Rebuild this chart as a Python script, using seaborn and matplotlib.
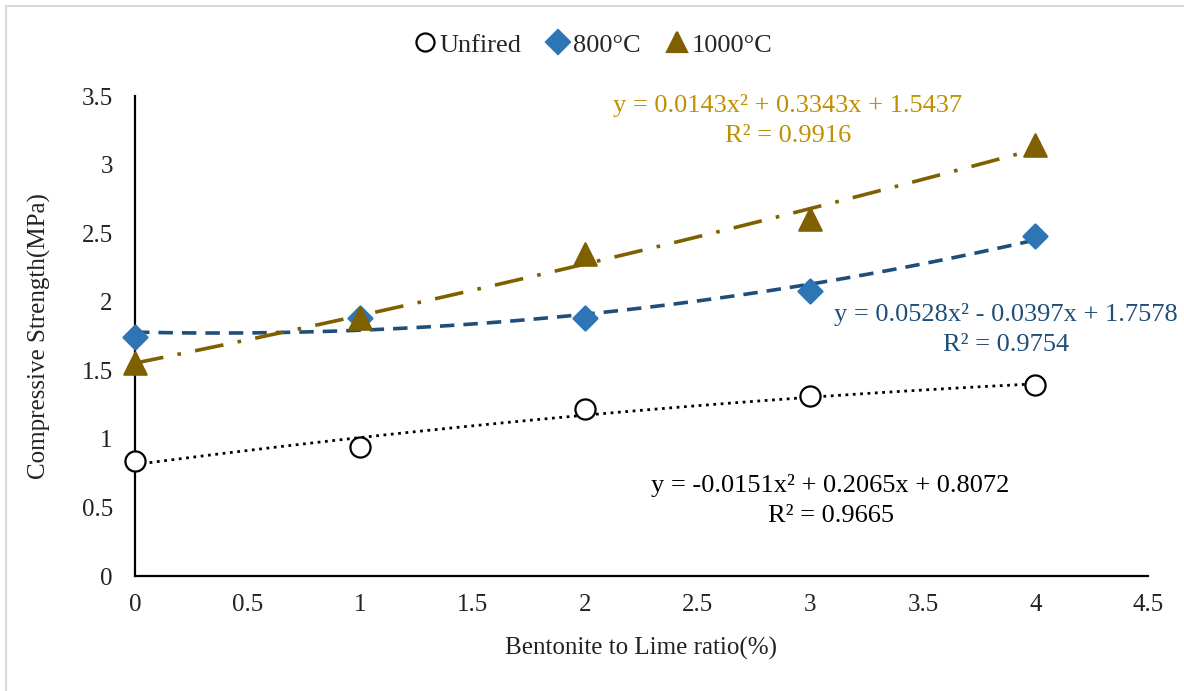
import matplotlib
matplotlib.use("Agg")
import matplotlib.pyplot as plt
import seaborn as sns
import pandas as pd
from matplotlib.lines import Line2D

ratio = [0, 1, 2, 3, 4]
unfired = [0.84, 0.94, 1.22, 1.31, 1.39]
c800 = [1.74, 1.88, 1.88, 2.08, 2.48]
c1000 = [1.55, 1.88, 2.35, 2.60, 3.14]

series_names = ["Unfired", "800°C", "1000°C"]
eq_texts = [
    "y = -0.0151x² + 0.2065x + 0.8072\nR² = 0.9665",
    "y = 0.0528x² - 0.0397x + 1.7578\nR² = 0.9754",
    "y = 0.0143x² + 0.3343x + 1.5437\nR² = 0.9916",
]
x_ticks = [0, 0.5, 1, 1.5, 2, 2.5, 3, 3.5, 4, 4.5]
y_ticks = [0, 0.5, 1, 1.5, 2, 2.5, 3, 3.5]

sns.set_theme(style="white")
plt.rcParams["font.family"] = ["Liberation Serif", "DejaVu Serif"]

fig = plt.figure(figsize=(11.84, 6.91), dpi=100)
ax = fig.add_axes([0.114, 0.1664, 0.8556, 0.6946])

df = pd.DataFrame({"ratio": ratio * 3,
                   "value": unfired + c800 + c1000,
                   "series": [n for n in series_names for _ in ratio]})

styles = {
    "Unfired": dict(marker="o", face="white", edge="black", size=210, line="black", ls=":", lw=2.0, lms=13),
    "800°C": dict(marker="D", face="#2E75B6", edge="#2E75B6", size=150, line="#1F4E79", ls=(0, (4, 2.5)), lw=2.6, lms=12),
    "1000°C": dict(marker="^", face="#7F6000", edge="#7F6000", size=260, line="#7F6000", ls=(0, (8, 4, 1, 4)), lw=2.6, lms=15),
}

for name in series_names:
    st = styles[name]
    sub = df[df.series == name]
    sns.regplot(data=sub, x="ratio", y="value", order=2, ci=None, scatter=False, ax=ax,
                line_kws=dict(color=st["line"], linestyle=st["ls"], linewidth=st["lw"], zorder=2))
    sns.scatterplot(data=sub, x="ratio", y="value", marker=st["marker"], s=st["size"],
                    color=st["face"], edgecolor=st["edge"], linewidth=1.6, ax=ax, zorder=3,
                    clip_on=False)

ax.set_xlim(0, 4.5)
ax.set_ylim(0, 3.5)
ax.set_xticks(x_ticks)
ax.set_xticklabels([f"{t:g}" for t in x_ticks])
ax.set_yticks(y_ticks)
ax.set_yticklabels([f"{t:g}" for t in y_ticks])
ax.tick_params(axis="both", length=0, labelsize=18, colors="#222222")
ax.tick_params(axis="x", pad=13)
ax.tick_params(axis="y", pad=16)
ax.set_xlabel("Bentonite to Lime ratio(%)", fontsize=18, color="#222222", labelpad=15)
ax.set_ylabel("Compressive Strength(MPa)", fontsize=18, color="#222222", labelpad=22)
for s in ["top", "right"]:
    ax.spines[s].set_visible(False)
for s in ["left", "bottom"]:
    ax.spines[s].set_color("black")
    ax.spines[s].set_linewidth(1.6)
ax.grid(False)

ax.text(3.09, 0.55, eq_texts[0], ha="center", va="center", fontsize=19, color="black", linespacing=1.45)
ax.text(3.87, 1.80, eq_texts[1], ha="center", va="center", fontsize=19, color="#1F4E79", linespacing=1.45)
ax.text(2.90, 3.32, eq_texts[2], ha="center", va="center", fontsize=19, color="#BF9000", linespacing=1.45)

handles = [Line2D([], [], linestyle="none", marker=styles[n]["marker"],
                  markerfacecolor=styles[n]["face"], markeredgecolor=styles[n]["edge"],
                  markeredgewidth=1.6, markersize=styles[n]["lms"]) for n in series_names]
fig.legend(handles, series_names, loc="center", bbox_to_anchor=(0.5, 0.935), ncol=3,
           frameon=False, fontsize=19, handletextpad=0.05, columnspacing=0.9, handlelength=1.0)

# light gray chart border (left and top)
fig.add_artist(Line2D([6 / 1184, 6 / 1184], [0, 1 - 6 / 691], transform=fig.transFigure, color="#D9D9D9", lw=1.5))
fig.add_artist(Line2D([6 / 1184, 1], [1 - 6 / 691, 1 - 6 / 691], transform=fig.transFigure, color="#D9D9D9", lw=1.5))

fig.savefig("out.png", dpi=100, facecolor="white")
